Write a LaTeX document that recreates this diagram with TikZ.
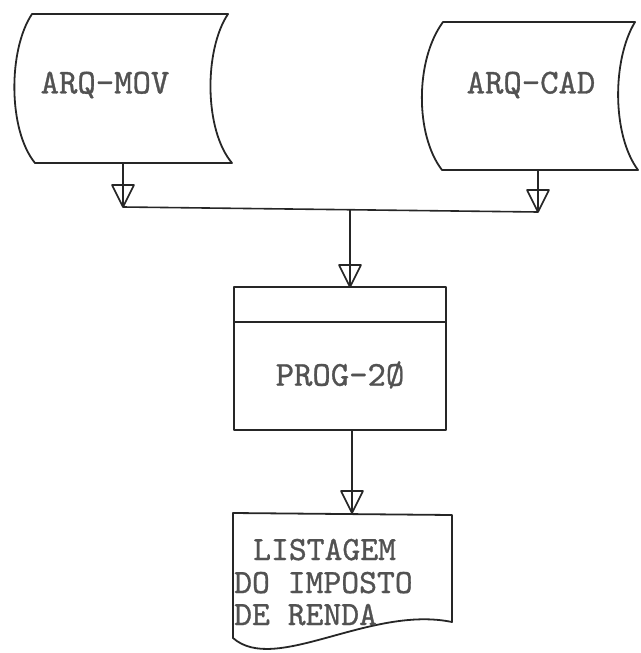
\documentclass[tikz,border=0pt]{standalone}
\usepackage{fontspec}
\newfontfamily\twfont[FakeBold=0.9]{lmmono10-regular.otf}
\begin{document}
\begin{tikzpicture}[x=1pt,y=-1pt,
  shapeline/.style={draw=black!85, line width=1.8pt, line join=round},
  conn/.style={draw=black!85, line width=1.6pt, line join=round},
  lbl/.style={font=\twfont\fontsize{35}{31}\selectfont, text=black!68, inner sep=0pt},
  lstl/.style={lbl, font=\twfont\fontsize{34}{31}\selectfont, anchor=base west}
]
\useasboundingbox (0,0) rectangle (640,653);

% ARQ-MOV (stored data)
\draw[shapeline] (32,14) -- (228,14) .. controls (204,50) and (204,130) .. (232,163)
  -- (35,163) .. controls (8,130) and (8,50) .. cycle;
\node[lbl] (mov) at (105,85) {ARQ-MOV};
\coordinate (movb) at (123,163);

% ARQ-CAD (stored data)
\draw[shapeline] (443,22) -- (635,22) .. controls (612,60) and (612,135) .. (638,170)
  -- (442,170) .. controls (415,135) and (415,60) .. cycle;
\node[lbl] (cad) at (531,85) {ARQ-CAD};
\coordinate (cadb) at (538,170);

% PROG-20 (predefined process)
\node[shapeline, minimum width=212pt, minimum height=143pt, inner sep=0pt] (prog) at (340,358.5) {};
\draw[shapeline] (prog.north west) ++(0,36) -- ++(212,0);
\node[lbl] (progt) at (340,375) {PROG-2Ø};

% LISTAGEM (document)
\draw[shapeline] (233,513) -- (452,515) -- (452,622)
  .. controls (370,605) and (275,675) .. (233,638) -- cycle;
\node[lstl] (lst1) at (253,560) {LISTAGEM};
\node[lstl] (lst2) at (234,593) {DO IMPOSTO};
\node[lstl] (lst3) at (234,625) {DE RENDA};

% connector points
\coordinate (movtip) at (123,207);
\coordinate (cadtip) at (538,212);
\coordinate (junc) at (350,209.7);
\coordinate (progin) at (350,287);
\coordinate (progout) at (352,430);
\coordinate (lstin) at (352,513);

% connectors
\draw[conn] (movb) -- (movtip);
\draw[conn] (cadb) -- (cadtip);
\draw[conn] (movtip) -- (cadtip);
\draw[conn] (junc) -- (progin);
\draw[conn] (progout) -- (lstin);

% open triangle arrowheads
\foreach \t in {movtip,cadtip,progin,lstin}
  \draw[conn] (\t) -- ++(-11,-22) -- ++(22,0) -- cycle;
\end{tikzpicture}
\end{document}
